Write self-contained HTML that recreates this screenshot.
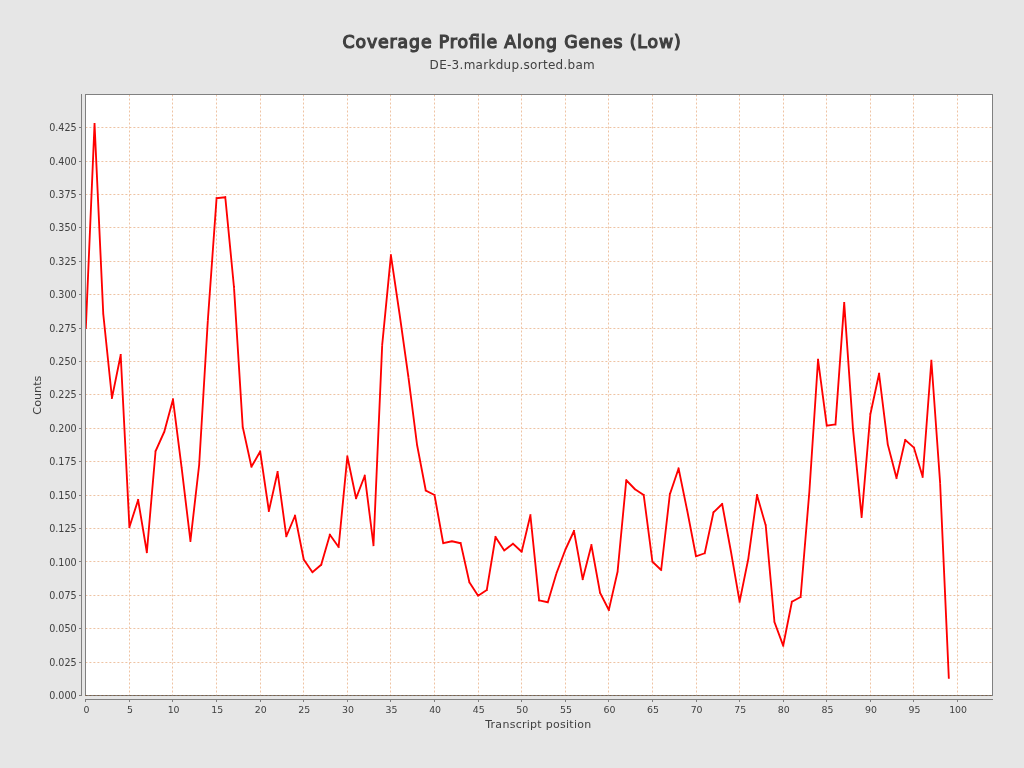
<!DOCTYPE html><html><head><meta charset="utf-8"><title>Coverage Profile Along Genes (Low)</title><style>
html,body{margin:0;padding:0;background:#e6e6e6;width:1024px;height:768px;overflow:hidden}
svg{display:block;will-change:transform}text{font-family:"DejaVu Sans","Liberation Sans",sans-serif;fill:#404040}
</style></head><body>
<svg width="1024" height="768" viewBox="0 0 1024 768">
<rect x="0" y="0" width="1024" height="768" fill="#e6e6e6"/>
<rect x="85" y="94" width="908" height="602" fill="#ffffff"/>
<path d="M129.5 94.5V695M172.5 94.5V695M216.5 94.5V695M260.5 94.5V695M303.5 94.5V695M347.5 94.5V695M390.5 94.5V695M434.5 94.5V695M478.5 94.5V695M521.5 94.5V695M565.5 94.5V695M608.5 94.5V695M652.5 94.5V695M696.5 94.5V695M739.5 94.5V695M783.5 94.5V695M826.5 94.5V695M870.5 94.5V695M913.5 94.5V695M957.5 94.5V695M85.4 662.5H992M85.4 628.5H992M85.4 595.5H992M85.4 561.5H992M85.4 528.5H992M85.4 495.5H992M85.4 461.5H992M85.4 428.5H992M85.4 394.5H992M85.4 361.5H992M85.4 328.5H992M85.4 294.5H992M85.4 261.5H992M85.4 227.5H992M85.4 194.5H992M85.4 161.5H992M85.4 127.5H992" stroke="#eec3a3" stroke-width="1" stroke-dasharray="2 2" fill="none"/>
<path d="M81.5 94V696M79 695.5H81M79 662.5H81M79 628.5H81M79 595.5H81M79 561.5H81M79 528.5H81M79 495.5H81M79 461.5H81M79 428.5H81M79 394.5H81M79 361.5H81M79 328.5H81M79 294.5H81M79 261.5H81M79 227.5H81M79 194.5H81M79 161.5H81M79 127.5H81" stroke="#808080" stroke-width="1" fill="none"/>
<path d="M85 699.5H993M85.5 700V702M129.5 700V702M172.5 700V702M216.5 700V702M260.5 700V702M303.5 700V702M347.5 700V702M390.5 700V702M434.5 700V702M478.5 700V702M521.5 700V702M565.5 700V702M608.5 700V702M652.5 700V702M696.5 700V702M739.5 700V702M783.5 700V702M826.5 700V702M870.5 700V702M913.5 700V702M957.5 700V702" stroke="#808080" stroke-width="1" fill="none"/>
<defs><clipPath id="da"><rect x="85.78" y="94" width="906.2" height="601.6"/></clipPath></defs>
<path clip-path="url(#da)" d="M85.82 328.10L94.54 123.90M94.54 123.90L103.25 313.75M103.25 313.75L111.97 398.00M111.97 398.00L120.69 355.00M120.69 355.00L129.41 527.00M129.41 527.00L138.12 500.00M138.12 500.00L146.84 552.25M146.84 552.25L155.56 451.25M155.56 451.25L164.27 431.75M164.27 431.75L172.99 399.50M172.99 399.50L181.71 468.40M181.71 468.40L190.42 541.00M190.42 541.00L199.14 465.00M199.14 465.00L207.86 320.00M207.86 320.00L216.57 198.25M216.57 198.25L225.29 197.25M225.29 197.25L234.01 287.50M234.01 287.50L242.73 427.00M242.73 427.00L251.44 466.75M251.44 466.75L260.16 451.50M260.16 451.50L268.88 511.00M268.88 511.00L277.59 472.00M277.59 472.00L286.31 536.25M286.31 536.25L295.03 515.75M295.03 515.75L303.75 559.50M303.75 559.50L312.46 572.25M312.46 572.25L321.18 564.75M321.18 564.75L329.90 534.75M329.90 534.75L338.61 547.00M338.61 547.00L347.33 456.50M347.33 456.50L356.05 498.25M356.05 498.25L364.76 475.75M364.76 475.75L373.48 545.25M373.48 545.25L382.20 344.75M382.20 344.75L390.92 255.30M390.92 255.30L399.63 314.50M399.63 314.50L408.35 376.60M408.35 376.60L417.07 445.00M417.07 445.00L425.78 490.50M425.78 490.50L434.50 495.00M434.50 495.00L443.22 543.25M443.22 543.25L451.93 541.25M451.93 541.25L460.65 543.25M460.65 543.25L469.37 582.25M469.37 582.25L478.09 595.75M478.09 595.75L486.80 590.00M486.80 590.00L495.52 537.00M495.52 537.00L504.24 550.50M504.24 550.50L512.95 543.75M512.95 543.75L521.67 551.75M521.67 551.75L530.39 515.25M530.39 515.25L539.10 600.40M539.10 600.40L547.82 602.25M547.82 602.25L556.54 573.10M556.54 573.10L565.25 550.00M565.25 550.00L573.97 531.00M573.97 531.00L582.69 579.15M582.69 579.15L591.41 545.25M591.41 545.25L600.12 593.00M600.12 593.00L608.84 610.00M608.84 610.00L617.56 571.75M617.56 571.75L626.27 480.25M626.27 480.25L634.99 489.25M634.99 489.25L643.71 495.00M643.71 495.00L652.42 561.75M652.42 561.75L661.14 570.00M661.14 570.00L669.86 494.25M669.86 494.25L678.58 468.50M678.58 468.50L687.29 511.00M687.29 511.00L696.01 556.25M696.01 556.25L704.73 553.25M704.73 553.25L713.44 512.50M713.44 512.50L722.16 504.00M722.16 504.00L730.88 551.25M730.88 551.25L739.60 601.70M739.60 601.70L748.31 558.75M748.31 558.75L757.03 495.25M757.03 495.25L765.75 525.50M765.75 525.50L774.46 622.00M774.46 622.00L783.18 645.60M783.18 645.60L791.90 601.75M791.90 601.75L800.61 597.00M800.61 597.00L809.33 492.00M809.33 492.00L818.05 359.75M818.05 359.75L826.77 425.70M826.77 425.70L835.48 424.40M835.48 424.40L844.20 302.90M844.20 302.90L852.92 428.00M852.92 428.00L861.63 517.00M861.63 517.00L870.35 414.30M870.35 414.30L879.07 373.80M879.07 373.80L887.78 444.40M887.78 444.40L896.50 478.00M896.50 478.00L905.22 440.00M905.22 440.00L913.93 447.65M913.93 447.65L922.65 476.85M922.65 476.85L931.37 360.70M931.37 360.70L940.09 482.50M940.09 482.50L948.80 677.90" fill="none" stroke="#ff0000" stroke-width="1.85" stroke-linecap="square"/>
<rect x="85.5" y="94.5" width="907" height="601" fill="none" stroke="#808080" stroke-width="1"/>
<path d="M85.4 695.5H992" stroke="#7c6149" stroke-width="1" stroke-dasharray="2 2" fill="none"/>
<text x="76.6" y="699.1" font-size="9.6" text-anchor="end">0.000</text>
<text x="76.6" y="665.7" font-size="9.6" text-anchor="end">0.025</text>
<text x="76.6" y="632.3" font-size="9.6" text-anchor="end">0.050</text>
<text x="76.6" y="598.9" font-size="9.6" text-anchor="end">0.075</text>
<text x="76.6" y="565.5" font-size="9.6" text-anchor="end">0.100</text>
<text x="76.6" y="532.1" font-size="9.6" text-anchor="end">0.125</text>
<text x="76.6" y="498.6" font-size="9.6" text-anchor="end">0.150</text>
<text x="76.6" y="465.2" font-size="9.6" text-anchor="end">0.175</text>
<text x="76.6" y="431.8" font-size="9.6" text-anchor="end">0.200</text>
<text x="76.6" y="398.4" font-size="9.6" text-anchor="end">0.225</text>
<text x="76.6" y="365.0" font-size="9.6" text-anchor="end">0.250</text>
<text x="76.6" y="331.6" font-size="9.6" text-anchor="end">0.275</text>
<text x="76.6" y="298.2" font-size="9.6" text-anchor="end">0.300</text>
<text x="76.6" y="264.8" font-size="9.6" text-anchor="end">0.325</text>
<text x="76.6" y="231.4" font-size="9.6" text-anchor="end">0.350</text>
<text x="76.6" y="198.0" font-size="9.6" text-anchor="end">0.375</text>
<text x="76.6" y="164.5" font-size="9.6" text-anchor="end">0.400</text>
<text x="76.6" y="131.1" font-size="9.6" text-anchor="end">0.425</text>
<text x="86.4" y="713" font-size="9.4" text-anchor="middle">0</text>
<text x="130.0" y="713" font-size="9.4" text-anchor="middle">5</text>
<text x="173.6" y="713" font-size="9.4" text-anchor="middle">10</text>
<text x="217.2" y="713" font-size="9.4" text-anchor="middle">15</text>
<text x="260.8" y="713" font-size="9.4" text-anchor="middle">20</text>
<text x="304.3" y="713" font-size="9.4" text-anchor="middle">25</text>
<text x="347.9" y="713" font-size="9.4" text-anchor="middle">30</text>
<text x="391.5" y="713" font-size="9.4" text-anchor="middle">35</text>
<text x="435.1" y="713" font-size="9.4" text-anchor="middle">40</text>
<text x="478.7" y="713" font-size="9.4" text-anchor="middle">45</text>
<text x="522.3" y="713" font-size="9.4" text-anchor="middle">50</text>
<text x="565.9" y="713" font-size="9.4" text-anchor="middle">55</text>
<text x="609.4" y="713" font-size="9.4" text-anchor="middle">60</text>
<text x="653.0" y="713" font-size="9.4" text-anchor="middle">65</text>
<text x="696.6" y="713" font-size="9.4" text-anchor="middle">70</text>
<text x="740.2" y="713" font-size="9.4" text-anchor="middle">75</text>
<text x="783.8" y="713" font-size="9.4" text-anchor="middle">80</text>
<text x="827.4" y="713" font-size="9.4" text-anchor="middle">85</text>
<text x="871.0" y="713" font-size="9.4" text-anchor="middle">90</text>
<text x="914.5" y="713" font-size="9.4" text-anchor="middle">95</text>
<text x="958.1" y="713" font-size="9.4" text-anchor="middle">100</text>
<text x="485.2" y="728" font-size="11" textLength="106">Transcript position</text>
<text transform="translate(41.4 395.1) rotate(-90)" x="0" y="0" font-size="11.2" text-anchor="middle">Counts</text>
<text x="342.5" y="48" font-size="17.3" textLength="338.3" stroke="#404040" stroke-width="1.2">Coverage Profile Along Genes (Low)</text>
<text x="429.6" y="68.7" font-size="12" textLength="165.2">DE-3.markdup.sorted.bam</text>
</svg></body></html>
